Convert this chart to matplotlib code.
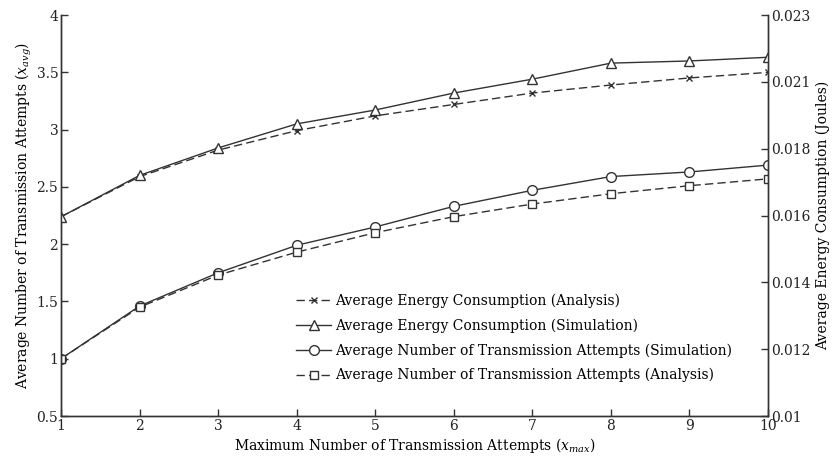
import numpy as np
from matplotlib import pyplot as plt

# data
x_max = [1, 2, 3, 4, 5, 6, 7, 8, 9, 10]
attempts_sim = [1.0, 1.46, 1.75, 1.99, 2.15, 2.33, 2.47, 2.59, 2.63, 2.69]
attempts_ana = [1.0, 1.45, 1.73, 1.93, 2.10, 2.24, 2.35, 2.44, 2.51, 2.57]
energy_sim = [0.01646, 0.01780, 0.01869, 0.01947, 0.01992, 0.02047,
              0.02092, 0.02144, 0.02151, 0.02163]
energy_ana = [0.01646, 0.01776, 0.01862, 0.01925, 0.01973, 0.02010,
              0.02047, 0.02073, 0.02096, 0.02114]

left_ticks = [0.5, 1, 1.5, 2, 2.5, 3, 3.5, 4]
left_labels = ['0.5', '1', '1.5', '2', '2.5', '3', '3.5', '4']
right_labels = ['0.01', '0.012', '0.014', '0.016', '0.018', '0.021', '0.023']

plt.rcParams['font.family'] = 'DejaVu Serif'
plt.rcParams['mathtext.fontset'] = 'dejavuserif'
plt.rcParams['font.size'] = 10

col = '#333333'

fig = plt.figure(figsize=(8.36, 4.63), dpi=100)
ax = fig.add_axes([0.073, 0.1015, 0.8457, 0.8661])
ax2 = ax.twinx()

mk = dict(markerfacecolor='white', markeredgecolor=col, color=col, lw=1)

l1, = ax2.plot(x_max, energy_ana, ls=(0, (6, 3)), marker='x', ms=5,
               label='Average Energy Consumption (Analysis)', **mk)
l2, = ax2.plot(x_max, energy_sim, ls='-', marker='^', ms=7,
               label='Average Energy Consumption (Simulation)', **mk)
l3, = ax.plot(x_max, attempts_sim, ls='-', marker='o', ms=7,
              label='Average Number of Transmission Attempts (Simulation)', **mk)
l4, = ax.plot(x_max, attempts_ana, ls=(0, (6, 3)), marker='s', ms=5.5,
              label='Average Number of Transmission Attempts (Analysis)', **mk)

ax.set_xlim(1, 10)
ax.set_ylim(0.5, 4)
ax2.set_ylim(0.01, 0.023)
ax.set_xticks(x_max)
ax.set_yticks(left_ticks)
ax.set_yticklabels(left_labels)
ax2.set_yticks(np.linspace(0.01, 0.023, len(right_labels)))
ax2.set_yticklabels(right_labels)

for a in (ax, ax2):
    a.spines['top'].set_visible(False)
    for s in a.spines.values():
        s.set_color(col)
        s.set_linewidth(1)
    a.tick_params(direction='in', length=5, width=1, color=col,
                  labelcolor='#222222', pad=2)

ax.set_xlabel('Maximum Number of Transmission Attempts ($x_{max}$)', labelpad=2)
ax.set_ylabel('Average Number of Transmission Attempts ($x_{avg}$)', labelpad=2)
ax2.set_ylabel('Average Energy Consumption (Joules)', labelpad=4)

ax.legend(handles=[l1, l2, l3, l4], loc='lower left',
          bbox_to_anchor=(0.325, 0.07), frameon=False, handlelength=2.5,
          handletextpad=0.3, labelspacing=0.75, borderaxespad=0)

plt.savefig('out.png', dpi=100)
